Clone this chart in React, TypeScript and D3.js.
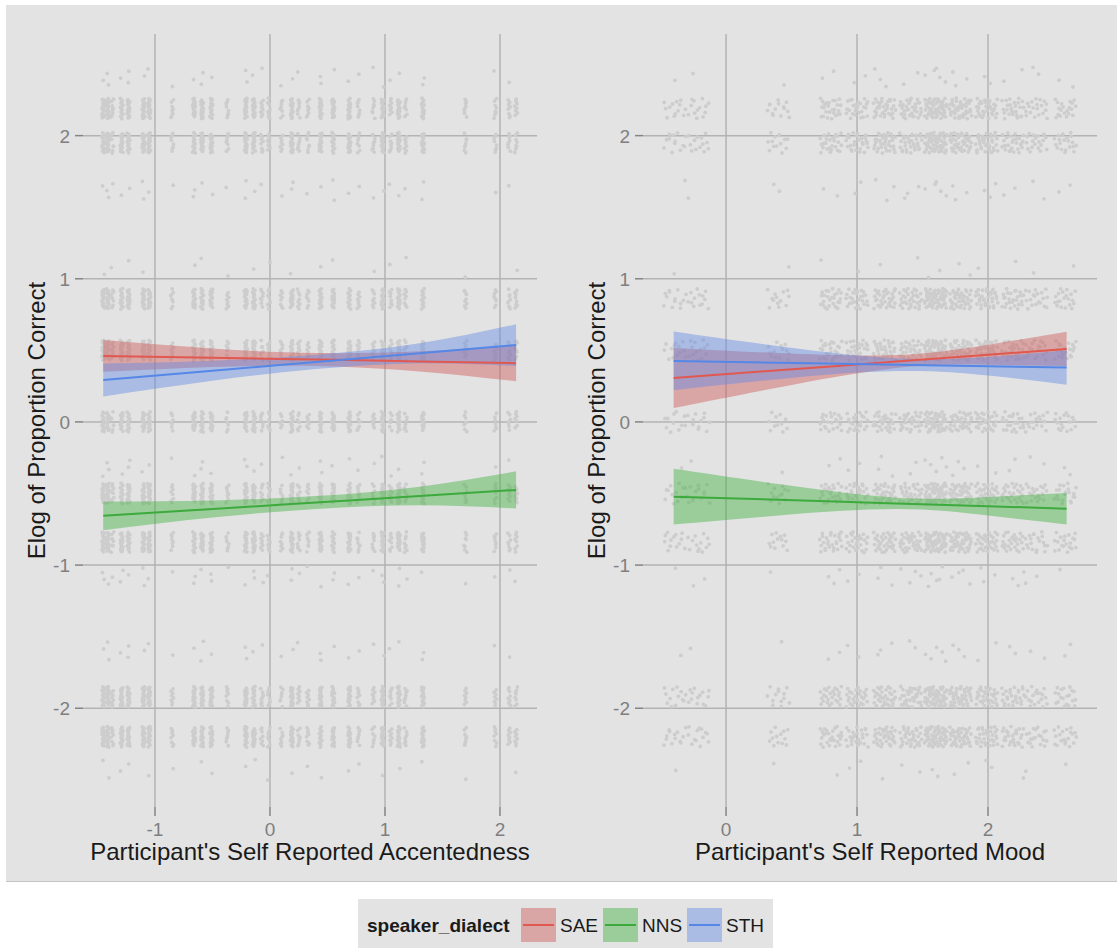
import React from 'react';
import * as d3 from 'd3';

const W = 1117;
const H = 949;

// ---- data ----
const dialects = ['SAE', 'NNS', 'STH'];
const lineColors = ['#E0584F', '#3CAA3C', '#5587E6'];
const ribbonColors = ['#CF5959', '#43B243', '#648CE5'];

const yTicks = [-2, -1, 0, 1, 2];
const accentTicks = [-1, 0, 1, 2];
const moodTicks = [0, 1, 2];

// distinct response levels (elog) and how populated each level is
const yLevels = [2.41, 2.19, 1.95, 1.62, 1.08, 0.86, 0.5, 0.0, -0.31, -0.5, -0.84, -1.08, -1.6, -1.92, -2.2, -2.43];
const yLevelDensity = [0.08, 1, 1, 0.09, 0.04, 1, 1, 0.85, 0.08, 1, 1, 0.1, 0.08, 1, 1, 0.05];

// participant columns (self reported accentedness) and relative weights
const accentColumns = [-1.45, -1.41, -1.37, -1.29, -1.23, -1.1, -1.05, -0.85, -0.66, -0.59, -0.51, -0.37, -0.21, -0.14, -0.07, -0.01, 0.1, 0.19, 0.25, 0.33, 0.44, 0.55, 0.69, 0.77, 0.9, 0.98, 1.05, 1.12, 1.18, 1.33, 1.7, 1.96, 2.08, 2.14];
const accentWeights = [2, 2, 1, 2, 2, 2, 2, 1, 2, 2, 2, 1, 2, 2, 1, 1, 1, 2, 1, 1, 2, 2, 2, 1, 1, 2, 1, 2, 1, 2, 1, 1, 1, 1];

// participant columns (self reported mood) and relative weights
const moodColumns = [-0.39, -0.21, 0.4, 0.8, 1.0, 1.21, 1.41, 1.6, 1.79, 1.99, 2.19, 2.37, 2.59];
const moodWeights = [1, 1, 1, 2, 2, 2.5, 2.5, 4, 3, 2.5, 2, 1.5, 1.5];

// fitted lines with confidence bands
const accentSmoothX = [-1.45, -0.5, 0.4, 1.3, 2.14];
const accentFit = [
  [0.461, 0.448, 0.436, 0.423, 0.41],
  [-0.656, -0.608, -0.563, -0.517, -0.475],
  [0.293, 0.358, 0.419, 0.48, 0.537],
];
const accentLo = [
  [0.35, 0.383, 0.391, 0.353, 0.285],
  [-0.756, -0.668, -0.608, -0.582, -0.605],
  [0.178, 0.288, 0.369, 0.41, 0.391],
];
const accentHi = [
  [0.572, 0.513, 0.481, 0.493, 0.535],
  [-0.556, -0.548, -0.518, -0.452, -0.345],
  [0.408, 0.428, 0.469, 0.55, 0.683],
];

const moodSmoothX = [-0.4, 0.4, 1.3, 2.0, 2.6];
const moodFit = [
  [0.307, 0.361, 0.422, 0.469, 0.51],
  [-0.522, -0.544, -0.569, -0.589, -0.606],
  [0.426, 0.414, 0.4, 0.389, 0.38],
];
const moodLo = [
  [0.097, 0.241, 0.377, 0.399, 0.39],
  [-0.717, -0.654, -0.609, -0.654, -0.716],
  [0.221, 0.299, 0.355, 0.324, 0.26],
];
const moodHi = [
  [0.517, 0.481, 0.467, 0.539, 0.63],
  [-0.327, -0.434, -0.529, -0.524, -0.496],
  [0.631, 0.529, 0.445, 0.454, 0.5],
];

// ---- helpers ----
function halton(i: number, b: number) {
  let f = 1;
  let r = 0;
  let n = i;
  while (n > 0) {
    f /= b;
    r += f * (n % b);
    n = Math.floor(n / b);
  }
  return r;
}

function buildPoints(cols: number[], weights: number[], perWeight: number, jx: number, jy: number) {
  const pts: [number, number][] = [];
  let k = 1;
  yLevels.forEach((lvl, li) => {
    let carry = 0.5;
    cols.forEach((c, ci) => {
      const expected = perWeight * weights[ci] * yLevelDensity[li] + carry;
      const n = Math.floor(expected);
      carry = expected - n;
      for (let p = 0; p < n; p++) {
        pts.push([c + (halton(k, 2) * 2 - 1) * jx, lvl + (halton(k, 3) * 2 - 1) * jy]);
        k++;
      }
    });
  });
  return pts;
}

const FONT = 'Liberation Sans, Arial, Helvetica, sans-serif';
const BG = '#E3E3E3';
const GRID = '#B3B3B3';
const TICK = '#858585';
const TICKTXT = '#7F7F7F';

const PY0 = 34;
const PY1 = 807;

type PanelProps = {
  x0: number;
  x1: number;
  xDomain: [number, number];
  xTicks: number[];
  cols: number[];
  weights: number[];
  perWeight: number;
  jx: number;
  smoothX: number[];
  fit: number[][];
  lo: number[][];
  hi: number[][];
  xTitle: string;
};

function Panel(p: PanelProps) {
  const x = d3.scaleLinear().domain(p.xDomain).range([p.x0, p.x1]);
  const y = d3.scaleLinear().domain([-2.69, 2.71]).range([PY1, PY0]);
  const pts = buildPoints(p.cols, p.weights, p.perWeight, p.jx, 0.072);
  const area = d3
    .area<number>()
    .x((_, i) => x(p.smoothX[i]))
    .curve(d3.curveNatural);
  const line = d3
    .line<number>()
    .x((_, i) => x(p.smoothX[i]))
    .y((d) => y(d))
    .curve(d3.curveNatural);
  const cx = (p.x0 + p.x1) / 2;
  return (
    <g>
      {yTicks.map((t) => (
        <g key={'y' + t}>
          <line x1={p.x0} x2={p.x1} y1={y(t)} y2={y(t)} stroke={GRID} strokeWidth={1.5} />
          <line x1={p.x0 - 8} x2={p.x0} y1={y(t)} y2={y(t)} stroke={TICK} strokeWidth={1.5} />
          <text x={p.x0 - 13} y={y(t) + 7} textAnchor="end" fontSize={19} fill={TICKTXT} fontFamily={FONT}>
            {t}
          </text>
        </g>
      ))}
      {p.xTicks.map((t) => (
        <g key={'x' + t}>
          <line x1={x(t)} x2={x(t)} y1={PY0} y2={PY1} stroke={GRID} strokeWidth={1.5} />
          <line x1={x(t)} x2={x(t)} y1={PY1} y2={PY1 + 9} stroke={TICK} strokeWidth={1.5} />
          <text x={x(t)} y={836} textAnchor="middle" fontSize={19} fill={TICKTXT} fontFamily={FONT}>
            {t}
          </text>
        </g>
      ))}
      <g fill="#CDCDCD">
        {pts.map((d, i) => (
          <circle key={i} cx={x(d[0])} cy={y(d[1])} r={1.9} />
        ))}
      </g>
      {dialects.map((dl, di) => {
        const a = area.y0((_, i) => y(p.lo[di][i])).y1((_, i) => y(p.hi[di][i]));
        return (
          <path key={'r' + dl} d={a(p.fit[di]) || ''} fill={ribbonColors[di]} fillOpacity={0.45} stroke="none" />
        );
      })}
      {dialects.map((dl, di) => (
        <path key={'l' + dl} d={line(p.fit[di]) || ''} fill="none" stroke={lineColors[di]} strokeWidth={2} />
      ))}
      <text x={cx} y={860} textAnchor="middle" fontSize={24} fill="#1A1A1A" fontFamily={FONT}>
        {p.xTitle}
      </text>
      <text
        transform={`translate(${p.x0 - 38},${(PY0 + PY1) / 2}) rotate(-90)`}
        textAnchor="middle"
        fontSize={24}
        fill="#1A1A1A"
        fontFamily={FONT}
      >
        Elog of Proportion Correct
      </text>
    </g>
  );
}

export default function App() {
  const keyX = [521, 603, 687];
  return (
    <svg width={W} height={H} style={{ position: 'absolute', left: 0, top: 0, background: '#FFFFFF' }}>
      <rect x={6} y={5} width={W - 6} height={876} fill={BG} />
      <line x1={6} x2={W} y1={881.5} y2={881.5} stroke="#C4C4C4" strokeWidth={1} />
      <Panel
        x0={83}
        x1={537}
        xDomain={[-1.626, 2.322]}
        xTicks={accentTicks}
        cols={accentColumns}
        weights={accentWeights}
        perWeight={8}
        jx={0.012}
        smoothX={accentSmoothX}
        fit={accentFit}
        lo={accentLo}
        hi={accentHi}
        xTitle="Participant's Self Reported Accentedness"
      />
      <Panel
        x0={643}
        x1={1097}
        xDomain={[-0.634, 2.832]}
        xTicks={moodTicks}
        cols={moodColumns}
        weights={moodWeights}
        perWeight={13}
        jx={0.085}
        smoothX={moodSmoothX}
        fit={moodFit}
        lo={moodLo}
        hi={moodHi}
        xTitle="Participant's Self Reported Mood"
      />
      {/* legend */}
      <rect x={358} y={899} width={415} height={49} fill={BG} />
      <text x={367} y={932} fontSize={19} fontWeight="bold" fill="#1A1A1A" fontFamily={FONT}>
        speaker_dialect
      </text>
      {dialects.map((dl, di) => (
        <g key={'k' + dl}>
          <rect x={keyX[di]} y={908} width={35} height={34} fill={BG} />
          <rect x={keyX[di]} y={908} width={35} height={34} fill={ribbonColors[di]} fillOpacity={0.45} />
          <line x1={keyX[di] + 2} x2={keyX[di] + 33} y1={925} y2={925} stroke={lineColors[di]} strokeWidth={2} />
          <text x={keyX[di] + 39} y={932} fontSize={19} fill="#1A1A1A" fontFamily={FONT}>
            {dl}
          </text>
        </g>
      ))}
    </svg>
  );
}
